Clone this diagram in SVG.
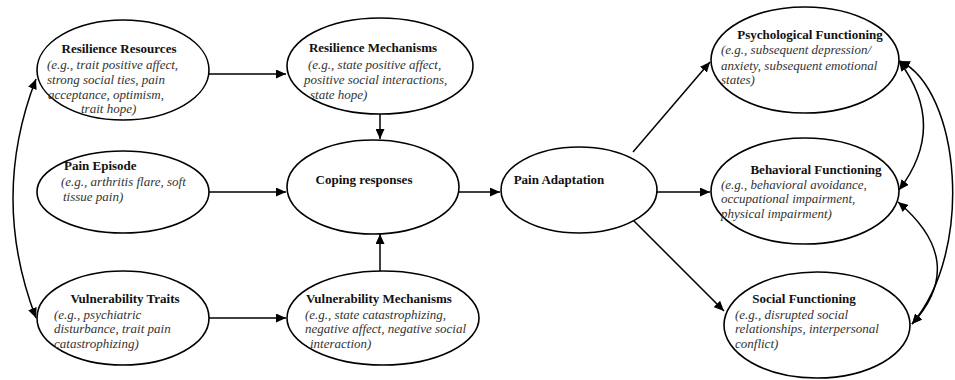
<svg xmlns="http://www.w3.org/2000/svg" width="955" height="380" viewBox="0 0 955 380">
<style>
.n ellipse{fill:#fff;stroke:#000;stroke-width:1.6}
.t{font-family:'Liberation Serif','Times New Roman',serif;font-size:13px;font-weight:bold;fill:#111}
.d{font-family:'Liberation Serif','Times New Roman',serif;font-size:13px;font-style:italic;fill:#333}
.c path,.c line{fill:none;stroke:#000;stroke-width:1.5}
</style>
<defs>
<marker id="a" markerUnits="userSpaceOnUse" markerWidth="11" markerHeight="9" refX="10" refY="4.5" orient="auto-start-reverse"><path d="M0,0 L10,4.5 L0,9 z" fill="#000"/></marker>
</defs>
<rect width="955" height="380" fill="#fff"/>
<g class="c" id="connectors">
<line x1="209" y1="74" x2="286" y2="74" marker-end="url(#a)"/>
<line x1="380" y1="113" x2="380" y2="139" marker-end="url(#a)"/>
<line x1="209" y1="192" x2="286" y2="192" marker-end="url(#a)"/>
<line x1="209" y1="318" x2="286" y2="318" marker-end="url(#a)"/>
<line x1="380" y1="272" x2="380" y2="234" marker-end="url(#a)"/>
<line x1="458" y1="192" x2="500" y2="192" marker-end="url(#a)"/>
<line x1="633" y1="152" x2="710" y2="62" marker-end="url(#a)"/>
<line x1="657" y1="192" x2="710" y2="192" marker-end="url(#a)"/>
<line x1="633" y1="220" x2="724" y2="311" marker-end="url(#a)"/>
<path d="M36,79 Q-10,198 36,318" marker-start="url(#a)" marker-end="url(#a)"/>
<path d="M899,61 Q948,126 899,190" marker-start="url(#a)" marker-end="url(#a)"/>
<path d="M900,61 C960,90 975,250 912,324" marker-start="url(#a)" marker-end="url(#a)"/>
<path d="M898,202 Q969,262 912,324" marker-start="url(#a)" marker-end="url(#a)"/>
</g>
<g class="n" id="resilience-resources">
<ellipse cx="123" cy="70" rx="86" ry="50"/>
<text class="t" x="119" y="53" text-anchor="middle">Resilience Resources</text>
<text class="d" x="47" y="69">(e.g., trait positive affect,</text>
<text class="d" x="47" y="84">strong social ties, pain</text>
<text class="d" x="48" y="99">acceptance, optimism,</text>
<text class="d" x="81" y="113">trait hope)</text>
</g>
<g class="n" id="resilience-mechanisms">
<ellipse cx="380" cy="66" rx="93" ry="48"/>
<text class="t" x="373" y="52" text-anchor="middle">Resilience Mechanisms</text>
<text class="d" x="308" y="69">(e.g., state positive affect,</text>
<text class="d" x="304" y="84">positive social  interactions,</text>
<text class="d" x="310" y="99">state hope)</text>
</g>
<g class="n" id="pain-episode">
<ellipse cx="123" cy="192" rx="86" ry="41"/>
<text class="t" x="64" y="170">Pain Episode</text>
<text class="d" x="61" y="186">(e.g., arthritis flare, soft</text>
<text class="d" x="63" y="201">tissue pain)</text>
</g>
<g class="n" id="coping-responses">
<ellipse cx="373" cy="187" rx="86" ry="47"/>
<text class="t" x="364" y="184" text-anchor="middle">Coping responses</text>
</g>
<g class="n" id="vulnerability-traits">
<ellipse cx="123" cy="318" rx="86" ry="47"/>
<text class="t" x="125" y="303" text-anchor="middle">Vulnerability Traits</text>
<text class="d" x="54" y="319">(e.g., psychiatric</text>
<text class="d" x="54" y="333">disturbance, trait pain</text>
<text class="d" x="54" y="348">catastrophizing)</text>
</g>
<g class="n" id="vulnerability-mechanisms">
<ellipse cx="383" cy="318" rx="96" ry="47"/>
<text class="t" x="379" y="303" text-anchor="middle">Vulnerability Mechanisms</text>
<text class="d" x="305" y="319">(e.g., state catastrophizing,</text>
<text class="d" x="305" y="333">negative affect, negative social</text>
<text class="d" x="310" y="348">interaction)</text>
</g>
<g class="n" id="pain-adaptation">
<ellipse cx="579" cy="190" rx="78" ry="43"/>
<text class="t" x="559" y="184" text-anchor="middle">Pain Adaptation</text>
</g>
<g class="n" id="psychological-functioning">
<ellipse cx="805" cy="60" rx="94" ry="53"/>
<text class="t" x="810" y="39" text-anchor="middle">Psychological Functioning</text>
<text class="d" x="721" y="54">(e.g., subsequent depression/</text>
<text class="d" x="721" y="70">anxiety, subsequent emotional</text>
<text class="d" x="721" y="84">states)</text>
</g>
<g class="n" id="behavioral-functioning">
<ellipse cx="805" cy="191" rx="94" ry="53"/>
<text class="t" x="816" y="174" text-anchor="middle">Behavioral Functioning</text>
<text class="d" x="721" y="189">(e.g., behavioral avoidance,</text>
<text class="d" x="721" y="203">occupational impairment,</text>
<text class="d" x="721" y="218">physical impairment)</text>
</g>
<g class="n" id="social-functioning">
<ellipse cx="817" cy="325" rx="93" ry="53"/>
<text class="t" x="804" y="303" text-anchor="middle">Social Functioning</text>
<text class="d" x="735" y="319">(e.g., disrupted social</text>
<text class="d" x="735" y="333">relationships, interpersonal</text>
<text class="d" x="735" y="348">conflict)</text>
</g>
</svg>
